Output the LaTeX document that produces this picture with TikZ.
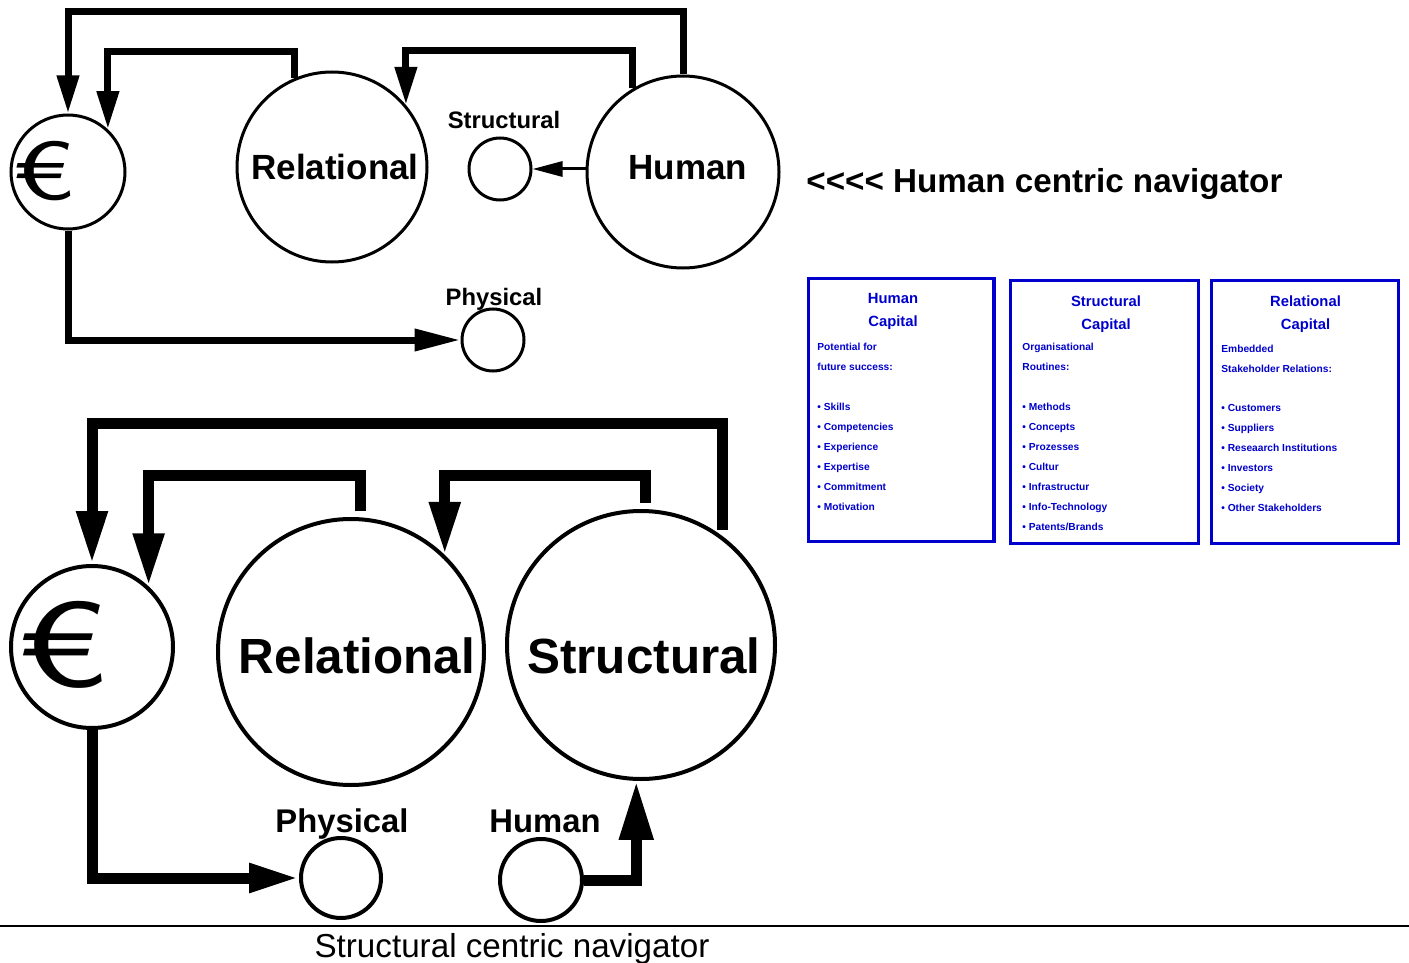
\documentclass[tikz,border=0pt]{standalone}
\usepackage{fontspec}
\setmainfont{Liberation Sans}[Ligatures=TeXOff]
\newfontfamily\eurofont{Latin Modern Sans}
\usetikzlibrary{arrows.meta}
\definecolor{capblue}{RGB}{0,0,204}

\begin{document}
\begin{tikzpicture}[x=0.5pt,y=-0.5pt,
  ringA/.style={circle,draw,line width=1.5pt,inner sep=0pt,minimum size=#1},
  ringB/.style={circle,draw,line width=2pt,inner sep=0pt,minimum size=#1},
  lbl/.style={inner sep=0pt,anchor=base,font=\fontsize{#1}{#1}\selectfont\bfseries},
  eurosign/.style={inner sep=0pt,font=\eurofont\fontsize{#1}{#1}\selectfont},
  flowA/.style={line width=3.5pt,-{Triangle[length=19pt,width=10.5pt]}},
  flowAlong/.style={line width=3.5pt,-{Triangle[length=23pt,width=10.5pt]}},
  flowthin/.style={line width=1.5pt,-{Triangle[length=15pt,width=7.5pt]}},
  flowB/.style={line width=5.5pt,shorten <=3pt,-{Triangle[length=26.5pt,width=14.5pt]}},
  capbox/.style={draw=capblue,line width=1.75pt,inner sep=0pt},
  captitle/.style={inner sep=0pt,anchor=base,text=capblue,font=\fontsize{7.4pt}{7.4pt}\selectfont\bfseries},
  capline/.style={inner sep=0pt,anchor=base west,text=capblue,font=\fontsize{5.1pt}{5.1pt}\selectfont\bfseries},
]
\useasboundingbox (0,0) rectangle (1409,963);

% ---------- Human centric navigator ----------
\node[ringA=57pt]  (E1) at (68,172) {};
\node[eurosign=41pt] (eur1) at (43.5,171) {\scalebox{1.4}[1]{€}};
\node[ringA=95pt]  (R1) at (332,167) {};
\node[lbl=17.5pt]  (R1t) at (335,180) {Relational};
\node[ringA=96pt]  (H1) at (683,172) {};
\node[lbl=17.5pt]  (H1t) at (688,180) {Human};
\node[ringA=31pt]  (S1) at (500,169) {};
\node[lbl=11.9pt]  (S1t) at (504,129) {Structural};
\node[ringA=31pt]  (P1) at (493,340) {};
\node[lbl=11.9pt]  (P1t) at (494,305) {Physical};

\draw[flowA] (H1.north) -- ++(0,-63) -| (E1.north);
\draw[flowA] (R1.113) -- ++(0,-27) -| (E1.47);
\draw[flowA] (H1.121) -- ++(0,-38) -| (R1.40);
\draw[flowthin] (S1.east -| H1.west) -- (S1.east);
\draw[flowAlong] (E1.south) |- (P1.west);

\node[inner sep=0pt,anchor=base west,font=\fontsize{16.6pt}{16.6pt}\selectfont\bfseries]
  (hcn) at (806,192) {<<<< Human centric navigator};

% ---------- capital boxes ----------
\node[capbox,minimum width=92.75pt,minimum height=131.5pt] (hcBox) at (901.25,410) {};
\node[captitle] (hcT1) at (893,303) {Human};
\node[captitle] (hcT2) at (893,326) {Capital};
\foreach \lbltxt/\yy [count=\i] in {Potential for/350,future success:/370,
  • Skills/410,• Competencies/430,• Experience/450,• Expertise/470,
  • Commitment/490,• Motivation/510}
  \node[capline] (hc-\i) at (817,\yy) {\lbltxt};

\node[capbox,minimum width=94pt,minimum height=131.5pt] (scBox) at (1104.5,412) {};
\node[captitle] (scT1) at (1106,306) {Structural};
\node[captitle] (scT2) at (1106,329) {Capital};
\foreach \lbltxt/\yy [count=\i] in {Organisational/350,Routines:/370,
  • Methods/410,• Concepts/430,• Prozesses/450,• Cultur/470,
  • Infrastructur/490,• Info-Technology/510,{• Patents/Brands}/530}
  \node[capline] (sc-\i) at (1022,\yy) {\lbltxt};

\node[capbox,minimum width=93.5pt,minimum height=131.5pt] (rcBox) at (1305,412) {};
\node[captitle] (rcT1) at (1305.5,306) {Relational};
\node[captitle] (rcT2) at (1305.5,329) {Capital};
\foreach \lbltxt/\yy [count=\i] in {Embedded/352,Stakeholder Relations:/372,
  • Customers/411,• Suppliers/431,• Reseaarch Institutions/451,• Investors/471,
  • Society/491,• Other Stakeholders/511}
  \node[capline] (rc-\i) at (1221,\yy) {\lbltxt};

% ---------- Structural centric navigator ----------
\node[ringB=81pt]  (E2) at (92,647) {};
\node[eurosign=60pt] (eur2) at (62.5,645) {\scalebox{1.4}[1]{€}};
\node[ringB=133pt] (R2) at (351,652) {};
\node[lbl=24.7pt]  (R2t) at (357,673) {Relational};
\node[ringB=134pt] (S2) at (641,645) {};
\node[lbl=24.7pt]  (S2t) at (644,673) {Structural};
\node[ringB=40pt]  (P2) at (341,878) {};
\node[lbl=16.4pt]  (P2t) at (342,832) {Physical};
\node[ringB=41pt]  (H2) at (541,880) {};
\node[lbl=16.4pt]  (H2t) at (545,832) {Human};

\draw[flowB] (S2.53) -- ++(0,-113) -| (E2.north);
\draw[flowB] (R2.86) -- ++(0,-42) -| (E2.47);
\draw[flowB] (S2.88) -- ++(0,-34) -| (R2.46);
\draw[flowB,shorten <=0pt,-{Triangle[length=25pt,width=13.5pt]}] (E2.south) |- (P2.west);
\draw[flowB,shorten <=0pt,-{Triangle[length=29.5pt,width=16pt]}] (H2.east) -| (S2.-92);

\draw[line width=1pt] (0,926) -- (1409,926);
\node[inner sep=0pt,anchor=base,font=\fontsize{16.6pt}{16.6pt}\selectfont]
  (scn) at (512,957) {Structural centric navigator};
\end{tikzpicture}
\end{document}
